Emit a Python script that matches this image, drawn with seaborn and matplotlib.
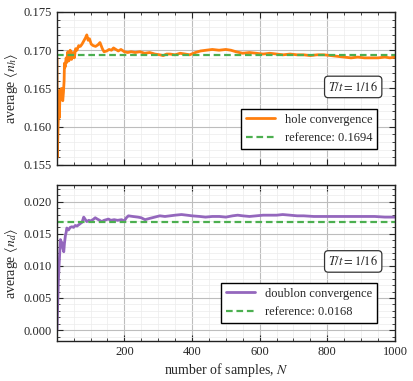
import numpy as np
import pandas as pd
import seaborn as sns
import matplotlib.pyplot as plt
from matplotlib.ticker import MultipleLocator

# running averages (N, value)
hole_N = [1, 2, 4, 6, 8, 10, 12, 14, 16, 18, 20, 22, 23, 25, 28, 30, 33, 36, 40, 44,
          48, 52, 56, 60, 65, 70, 75, 80, 85, 89, 93, 97, 102, 108, 115, 122, 128,
          135, 140, 148, 155, 162, 168, 175, 182, 190, 200, 210, 220, 232, 246, 260,
          275, 290, 305, 315, 325, 335, 350, 365, 380, 393, 410, 425, 442, 460, 480,
          500, 515, 530, 550, 570, 590, 610, 630, 650, 670, 690, 710, 730, 750, 770,
          790, 810, 830, 850, 870, 890, 910, 930, 950, 970, 985, 1000]
hole_avg = [0.1690, 0.1560, 0.1600, 0.1625, 0.1612, 0.1648, 0.1635, 0.1650, 0.1640,
            0.1634, 0.1645, 0.1660, 0.1683, 0.1678, 0.1690, 0.1684, 0.1698, 0.1686,
            0.1700, 0.1688, 0.1697, 0.1690, 0.1702, 0.1700, 0.1706, 0.1705, 0.1708,
            0.1712, 0.1716, 0.1720, 0.1713, 0.1715, 0.1708, 0.1706, 0.1705, 0.1707,
            0.1710, 0.1702, 0.1698, 0.1699, 0.1701, 0.1700, 0.1703, 0.1701, 0.1699,
            0.1701, 0.1698, 0.1697, 0.1698, 0.1697, 0.1698, 0.1696, 0.1697, 0.1695,
            0.1694, 0.1693, 0.1695, 0.1695, 0.1694, 0.1696, 0.1695, 0.1694, 0.1697,
            0.1699, 0.1700, 0.1701, 0.1700, 0.1701, 0.1700, 0.1698, 0.1696, 0.1697,
            0.1696, 0.1695, 0.1696, 0.1695, 0.1694, 0.1695, 0.1694, 0.1694, 0.1693,
            0.1694, 0.1694, 0.1693, 0.1692, 0.1691, 0.1690, 0.1691, 0.1690, 0.1690,
            0.1690, 0.1691, 0.1690, 0.1691]
hole_ref = 0.1694

doub_N = [1, 3, 5, 7, 9, 11, 13, 16, 18, 21, 23, 26, 28, 30, 35, 40, 45, 50, 55, 60,
          65, 70, 75, 80, 85, 89, 95, 100, 107, 114, 120, 127, 133, 140, 147, 153,
          160, 170, 180, 192, 200, 206, 212, 225, 240, 250, 261, 275, 290, 305, 320,
          335, 350, 369, 385, 400, 423, 440, 460, 481, 500, 520, 535, 550, 570, 590,
          610, 629, 650, 668, 690, 711, 730, 760, 790, 810, 840, 870, 908, 940, 970,
          1000]
doub_avg = [0.0000, 0.0040, 0.0075, 0.0100, 0.0120, 0.0141, 0.0138, 0.0136, 0.0128,
            0.0122, 0.0135, 0.0148, 0.0152, 0.0159, 0.0156, 0.0160, 0.0161, 0.0160,
            0.0163, 0.0162, 0.0164, 0.0166, 0.0168, 0.0176, 0.0172, 0.0169, 0.0171,
            0.0170, 0.0172, 0.0175, 0.0173, 0.0171, 0.0169, 0.0171, 0.0172, 0.0173,
            0.0171, 0.0172, 0.0171, 0.0172, 0.0170, 0.0175, 0.0178, 0.0177, 0.0176,
            0.0175, 0.0172, 0.0174, 0.0176, 0.0178, 0.0177, 0.0178, 0.0179, 0.0180,
            0.0179, 0.0178, 0.0177, 0.0176, 0.0177, 0.0177, 0.0176, 0.0178, 0.0179,
            0.0178, 0.0177, 0.0178, 0.0179, 0.0179, 0.0179, 0.0180, 0.0179, 0.0178,
            0.0178, 0.0177, 0.0177, 0.0177, 0.0177, 0.0177, 0.0177, 0.0177, 0.0176,
            0.0176]
doub_ref = 0.0168

temp_label = r"$T/t = 1/16$"

sns.set_style("ticks")
plt.rcParams["font.family"] = ["Liberation Serif", "DejaVu Serif"]
plt.rcParams["mathtext.fontset"] = "stix"
plt.rcParams["font.size"] = 9

fig = plt.figure(figsize=(4.14, 3.81), dpi=100)
ax1 = fig.add_axes([0.1377, 0.567, 0.8164, 0.4016])
ax2 = fig.add_axes([0.1377, 0.105, 0.8164, 0.4094], sharex=ax1)

panels = [
    (ax1, hole_N, hole_avg, hole_ref, "#ff7f0e", "hole convergence",
     r"average $\langle n_h \rangle$", (0.155, 0.175), 0.005, 0.001, 0.105),
    (ax2, doub_N, doub_avg, doub_ref, "#9467bd", "doublon convergence",
     r"average $\langle n_d \rangle$", (-0.0017, 0.0226), 0.005, 0.001, 0.115),
]

for ax, xs, ys, ref, col, lab, ylab, ylim, maj, mnr, leg_y in panels:
    sns.lineplot(x=xs, y=ys, ax=ax, color=col, lw=2.0, label=lab)
    ax.axhline(ref, color="#4caf50", ls="--", lw=1.6, dashes=(3, 1.7),
               label=f"reference: {ref}")
    ax.set_xlim(1, 1000)
    ax.set_ylim(*ylim)
    ax.xaxis.set_major_locator(MultipleLocator(200))
    ax.xaxis.set_minor_locator(MultipleLocator(50))
    ax.yaxis.set_major_locator(MultipleLocator(maj))
    ax.yaxis.set_minor_locator(MultipleLocator(mnr))
    ax.yaxis.set_major_formatter(plt.FormatStrFormatter("%.3f"))
    ax.grid(which="major", color="#bdbdbd", lw=0.8)
    ax.grid(which="minor", color="#ececec", lw=0.5)
    ax.set_axisbelow(True)
    ax.tick_params(which="both", direction="in", top=True, right=True, labelsize=9)
    ax.tick_params(which="major", length=4, width=0.8)
    ax.tick_params(which="minor", length=2, width=0.6)
    for s in ax.spines.values():
        s.set_linewidth(1.0)
        s.set_color("#222222")
    ax.set_ylabel(ylab, fontsize=10, labelpad=3)
    leg = ax.legend(loc="lower right", bbox_to_anchor=(0.947, leg_y),
                    borderaxespad=0, fancybox=False, edgecolor="black",
                    framealpha=1, fontsize=9, handlelength=2.3)
    leg.get_frame().set_linewidth(1.0)
    ax.text(0.95, 0.51, temp_label, transform=ax.transAxes, ha="right",
            va="center", fontsize=9,
            bbox=dict(boxstyle="round,pad=0.3", fc="white", ec="#333333", lw=0.9))

plt.setp(ax1.get_xticklabels(), visible=False)
ax1.set_xlabel("")
ax2.set_xlabel(r"number of samples, $N$", fontsize=10, labelpad=2)

fig.savefig("out.png", dpi=100)
